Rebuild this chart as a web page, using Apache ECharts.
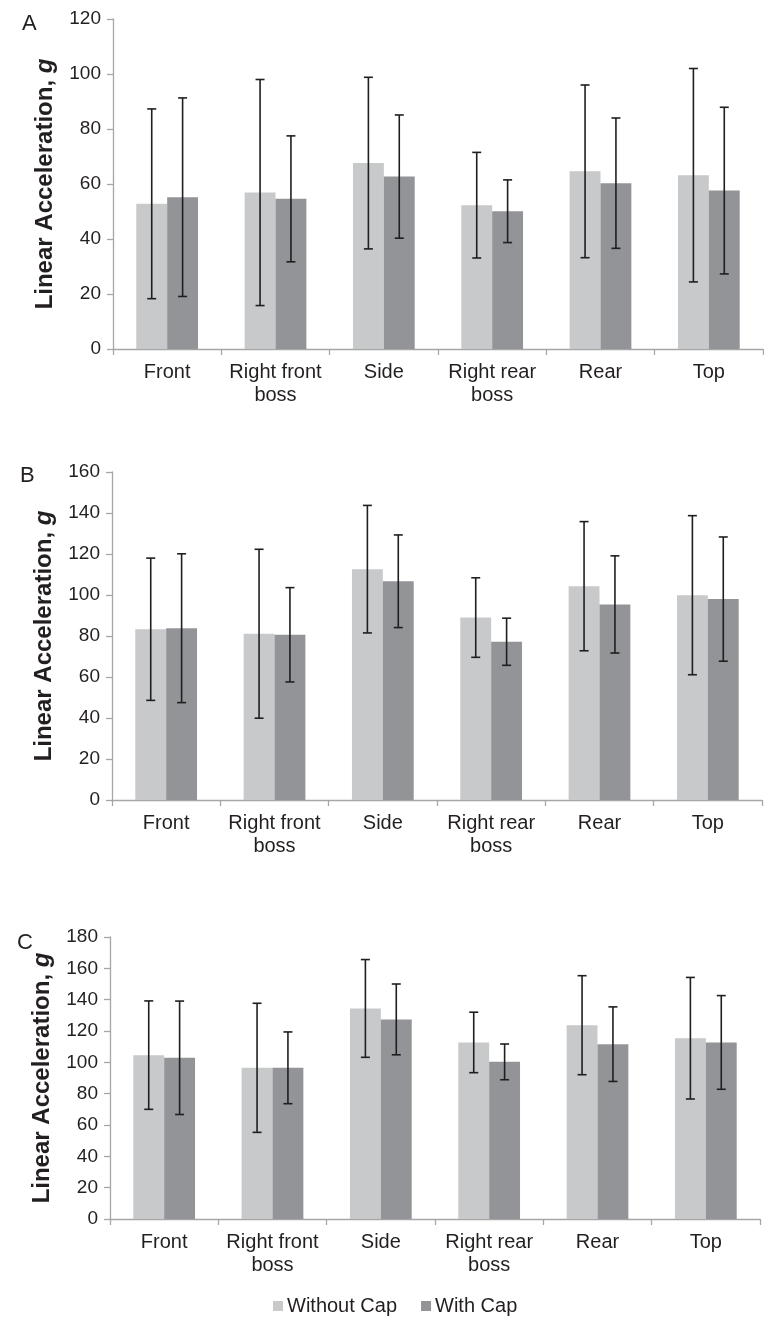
<!DOCTYPE html>
<html>
<head>
<meta charset="utf-8">
<script src="https://cdn.jsdelivr.net/npm/echarts@6/dist/echarts.min.js"></script>
<style>
  html, body { margin: 0; padding: 0; background: #fff; }
  #chart { width: 764px; height: 1318px; }
</style>
</head>
<body>
<div id="chart"></div>
<script>
// categories shared by all three panels
const categories = ['Front', 'Right front\nboss', 'Side', 'Right rear\nboss', 'Rear', 'Top'];

// panel A
const aNoCapMean = [52.8, 56.9, 67.6, 52.3, 64.6, 63.2];
const aNoCapSd = [34.5, 41.1, 31.2, 19.2, 31.4, 38.8];
const aCapMean = [55.2, 54.6, 62.7, 50.1, 60.3, 57.6];
const aCapSd = [36.1, 22.9, 22.4, 11.4, 23.7, 30.3];

// panel B
const bNoCapMean = [83.3, 81.1, 112.6, 89.0, 104.3, 99.9];
const bNoCapSd = [34.7, 41.2, 31.1, 19.4, 31.5, 38.8];
const bCapMean = [83.8, 80.6, 106.7, 77.2, 95.4, 98.0];
const bCapSd = [36.3, 23.0, 22.6, 11.5, 23.7, 30.3];

// panel C
const cNoCapMean = [104.6, 96.5, 134.4, 112.7, 123.7, 115.4];
const cNoCapSd = [34.6, 41.2, 31.2, 19.3, 31.6, 38.8];
const cCapMean = [102.9, 96.5, 127.4, 100.3, 111.6, 112.7];
const cCapSd = [36.2, 22.9, 22.6, 11.4, 23.8, 29.9];

// y axis ranges
const yMax = [120, 160, 180];
const panelLetters = ['A', 'B', 'C'];

const FONT = '"Liberation Sans", Arial, sans-serif';
const LIGHT = '#c8c9cb';
const DARK = '#939497';
const AXIS = '#a6a6a6';
const TEXT = '#231f20';
const CAT_GAP = 0.43;

const panels = [
  { noCap: aNoCapMean, noSd: aNoCapSd, cap: aCapMean, capSd: aCapSd },
  { noCap: bNoCapMean, noSd: bNoCapSd, cap: bCapMean, capSd: bCapSd },
  { noCap: cNoCapMean, noSd: cNoCapSd, cap: cCapMean, capSd: cCapSd }
];

const grids = [
  { left: 113, top: 19, width: 650, height: 330 },
  { left: 112, top: 472, width: 650, height: 328 },
  { left: 110, top: 937, width: 650, height: 282 }
];

const letterPos = [
  { left: 22, top: 13 },
  { left: 20, top: 465 },
  { left: 17, top: 932 }
];

// error bar drawn at the centre of one of the two bars in a group
function errorBar(side) {
  return function (params, api) {
    const idx = api.value(0);
    const mean = api.value(1);
    const sd = api.value(2);
    const band = api.size([1, 0])[0];
    const bw = band * (1 - CAT_GAP) / 2;
    const c = api.coord([idx, mean]);
    const x = c[0] + side * bw / 2;
    const top = api.coord([idx, mean + sd])[1];
    const bot = api.coord([idx, mean - sd])[1];
    const cap = 4.5;
    const style = { stroke: '#1f1f1f', lineWidth: 1.6 };
    return {
      type: 'group',
      children: [
        { type: 'line', shape: { x1: x, y1: top, x2: x, y2: bot }, style: style },
        { type: 'line', shape: { x1: x - cap, y1: top, x2: x + cap, y2: top }, style: style },
        { type: 'line', shape: { x1: x - cap, y1: bot, x2: x + cap, y2: bot }, style: style }
      ]
    };
  };
}

const xAxes = [], yAxes = [], series = [];
panels.forEach(function (p, i) {
  xAxes.push({
    type: 'category',
    gridIndex: i,
    data: categories,
    axisLine: { lineStyle: { color: AXIS, width: 1.3 } },
    axisTick: { show: true, length: 6, lineStyle: { color: AXIS, width: 1.3 } },
    axisLabel: { interval: 0, fontSize: 20, lineHeight: 23, color: TEXT, fontFamily: FONT, margin: 12 }
  });
  yAxes.push({
    type: 'value',
    gridIndex: i,
    min: 0,
    max: yMax[i],
    interval: 20,
    splitLine: { show: false },
    axisLine: { show: true, lineStyle: { color: AXIS, width: 1.3 } },
    axisTick: { show: true, length: 6, lineStyle: { color: AXIS, width: 1.3 } },
    axisLabel: { fontSize: 19, color: TEXT, fontFamily: FONT, margin: 12 },
    name: '{b|Linear Acceleration, }{i|g}',
    nameLocation: 'middle',
    nameRotate: 90,
    nameGap: 56,
    nameTextStyle: {
      rich: {
        b: { fontSize: 24, fontWeight: 'bold', color: TEXT, fontFamily: FONT },
        i: { fontSize: 24, fontWeight: 'bold', fontStyle: 'italic', color: TEXT, fontFamily: FONT }
      }
    }
  });
  series.push({
    name: 'Without Cap',
    type: 'bar',
    xAxisIndex: i,
    yAxisIndex: i,
    data: p.noCap,
    barGap: '0%',
    barCategoryGap: (CAT_GAP * 100) + '%',
    itemStyle: { color: LIGHT }
  });
  series.push({
    name: 'With Cap',
    type: 'bar',
    xAxisIndex: i,
    yAxisIndex: i,
    data: p.cap,
    barGap: '0%',
    barCategoryGap: (CAT_GAP * 100) + '%',
    itemStyle: { color: DARK }
  });
  series.push({
    type: 'custom',
    xAxisIndex: i,
    yAxisIndex: i,
    renderItem: errorBar(-1),
    data: p.noCap.map(function (m, k) { return [k, m, p.noSd[k]]; }),
    z: 5
  });
  series.push({
    type: 'custom',
    xAxisIndex: i,
    yAxisIndex: i,
    renderItem: errorBar(1),
    data: p.cap.map(function (m, k) { return [k, m, p.capSd[k]]; }),
    z: 5
  });
});

const chart = echarts.init(document.getElementById('chart'), null, { renderer: 'canvas' });
chart.setOption({
  backgroundColor: '#fff',
  animation: false,
  title: panelLetters.map(function (t, i) {
    return {
      text: t,
      left: letterPos[i].left,
      top: letterPos[i].top,
      padding: 0,
      textStyle: { fontSize: 22, fontWeight: 'normal', color: TEXT, fontFamily: FONT }
    };
  }),
  legend: {
    data: ['Without Cap', 'With Cap'],
    left: 273,
    top: 1296,
    padding: 0,
    icon: 'rect',
    itemWidth: 10,
    itemHeight: 10,
    itemGap: 24,
    textStyle: { fontSize: 20, color: TEXT, fontFamily: FONT, padding: [0, 0, 0, -1] }
  },
  grid: grids,
  xAxis: xAxes,
  yAxis: yAxes,
  series: series
});
</script>
</body>
</html>
